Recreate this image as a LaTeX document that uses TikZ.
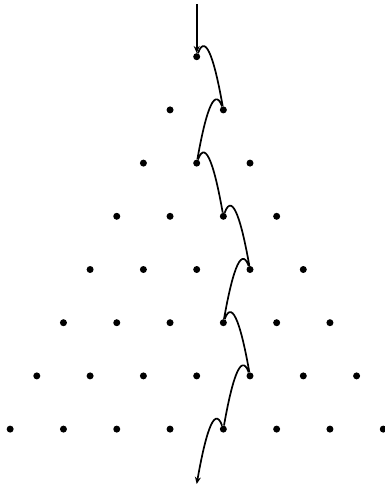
\documentclass[tikz,border=0pt]{standalone}
\usetikzlibrary{arrows.meta}
\begin{document}
\begin{tikzpicture}[x=1pt,y=1pt,
  dot/.style={circle,fill=black,inner sep=0pt,minimum size=7pt},
  walk/.style={line width=1.7pt},
  tip/.style={-{Stealth[length=7pt,width=6pt]}}]
\useasboundingbox (0,0) rectangle (385,-490);
\foreach \r in {0,...,7}{
  \foreach \k in {0,...,\r}{
    \node[dot] (d-\r-\k) at ({196.7+(\k-\r/2)*53.3},{-56.7-\r*53.2}) {};
  }
}
\coordinate (top) at (196.7,-4);
\coordinate (bot) at (196.7,-484);
\draw[walk,tip] (top) -- (d-0-0);
\draw[walk]
  (d-0-0) .. controls +(70:28) and +(100:45) .. (d-1-1)
  (d-1-1) .. controls +(110:28) and +(80:45) .. (d-2-1)
  (d-2-1) .. controls +(70:28) and +(100:45) .. (d-3-2)
  (d-3-2) .. controls +(70:28) and +(100:45) .. (d-4-3)
  (d-4-3) .. controls +(110:28) and +(80:45) .. (d-5-3)
  (d-5-3) .. controls +(70:28) and +(100:45) .. (d-6-4)
  (d-6-4) .. controls +(110:28) and +(80:45) .. (d-7-4);
\draw[walk,tip] (d-7-4) .. controls +(110:28) and +(80:45) .. (bot);
\end{tikzpicture}
\end{document}
